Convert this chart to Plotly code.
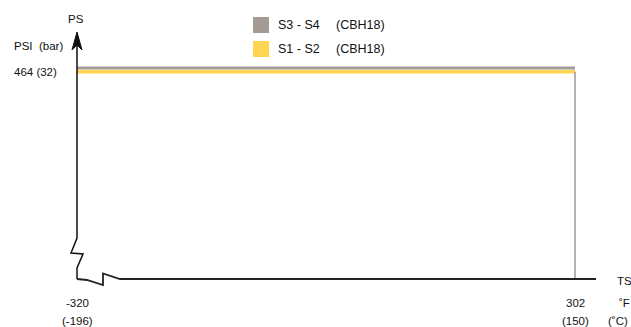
import plotly.graph_objects as go

# ---- data ----
series_names = ["S3 - S4", "S1 - S2"]
series_codes = ["(CBH18)", "(CBH18)"]
series_colors = ["#a49b95", "#fdd550"]
temps_f = [-320, 302]          # °F
temps_c = [-196, 150]          # °C
pressure_psi = [464, 464]      # PSI
pressure_bar = 32              # bar

# ---- layout geometry (screen pixels) ----
W, H = 631, 327
X0, X1, Y0, Y1 = 77, 597, 32, 279          # plot area in pixels
L, R, T, B = X0, W - X1, Y0, H - Y1
PW, PH = X1 - X0, Y1 - Y0

def px(x):
    return (x - X0) / PW

def py(y):
    return (Y1 - y) / PH

FONT = "Liberation Sans, Arial, sans-serif"

x_range = [temps_f[0], temps_f[1] + (X1 - 575) * (temps_f[1] - temps_f[0]) / (575 - X0)]
y1_top = pressure_psi[0] * PH / (Y1 - 68)
y2_top = pressure_psi[1] * PH / (Y1 - 71.7)

fig = go.Figure()
fig.add_trace(go.Scatter(x=temps_f, y=pressure_psi, mode="lines",
                         line=dict(color=series_colors[0], width=3),
                         name=series_names[0], yaxis="y", hoverinfo="skip"))
fig.add_trace(go.Scatter(x=temps_f, y=pressure_psi, mode="lines",
                         line=dict(color=series_colors[1], width=3.5),
                         name=series_names[1], yaxis="y2", hoverinfo="skip"))
fig.add_trace(go.Scatter(x=[temps_f[1], temps_f[1]], y=[0, pressure_psi[1]], mode="lines",
                         line=dict(color="#9a9a9a", width=1.5),
                         yaxis="y2", showlegend=False, hoverinfo="skip"))

shapes = []
yaxis_pts = [(77, 40), (77, 238), (71, 253), (83, 254), (77, 268), (77, 279)]
xaxis_pts = [(77, 279), (87, 280), (103, 285), (103, 273.5), (120, 279), (596, 279)]

def path(pts):
    return "M " + " L ".join(f"{px(a):.5f},{py(b):.5f}" for a, b in pts)

shapes.append(dict(type="path", xref="paper", yref="paper", path=path(yaxis_pts),
                   line=dict(color="#111", width=1.5)))
shapes.append(dict(type="path", xref="paper", yref="paper", path=path(xaxis_pts),
                   line=dict(color="#222", width=1.8)))
arrow = [(77, 32), (82, 50), (77, 45), (72, 50)]
shapes.append(dict(type="path", xref="paper", yref="paper", path=path(arrow) + " Z",
                   fillcolor="#111", line=dict(color="#111", width=1)))

leg_y = [25, 49]
for i, c in enumerate(series_colors):
    shapes.append(dict(type="rect", xref="paper", yref="paper",
                       x0=px(253), x1=px(269), y0=py(leg_y[i] - 8), y1=py(leg_y[i] + 8),
                       fillcolor=c, line=dict(width=0)))

ann = []
def text(t, x, y, size=11.5, xanchor="center"):
    ann.append(dict(text=t, x=px(x), y=py(y), xref="paper", yref="paper",
                    xanchor=xanchor, yanchor="middle", showarrow=False,
                    font=dict(family=FONT, size=size, color="#111")))

for i in range(2):
    text(series_names[i], 276, leg_y[i], size=12.5, xanchor="left")
    text(series_codes[i], 334, leg_y[i], size=12.5, xanchor="left")

text("PS", 76, 19)
text("PSI\u00a0 (bar)", 12, 46, xanchor="left")
text(f"{pressure_psi[0]} ({pressure_bar})", 12, 72, xanchor="left")
text("TS", 615, 281, xanchor="left")
text("˚F", 617, 303, xanchor="left")
text("(˚C)", 630, 321, xanchor="right")

for f, c in zip(temps_f, temps_c):
    ann.append(dict(text=str(f), x=f, y=py(303), xref="x", yref="paper",
                    xanchor="center", yanchor="middle", showarrow=False,
                    font=dict(family=FONT, size=11.5, color="#111")))
    ann.append(dict(text=f"({c})", x=f, y=py(321), xref="x", yref="paper",
                    xanchor="center", yanchor="middle", showarrow=False,
                    font=dict(family=FONT, size=11.5, color="#111")))

fig.update_layout(
    width=W, height=H,
    margin=dict(l=L, r=R, t=T, b=B, pad=0),
    paper_bgcolor="white", plot_bgcolor="white",
    showlegend=False,
    xaxis=dict(range=x_range, visible=False, fixedrange=True),
    yaxis=dict(range=[0, y1_top], visible=False, fixedrange=True),
    yaxis2=dict(range=[0, y2_top], visible=False, overlaying="y", fixedrange=True),
    shapes=shapes, annotations=ann,
    font=dict(family=FONT),
)

fig.write_html(
    "out.html",
    config={"displayModeBar": False},
    post_script="document.body.style.margin='0';document.body.style.overflow='hidden';",
)
